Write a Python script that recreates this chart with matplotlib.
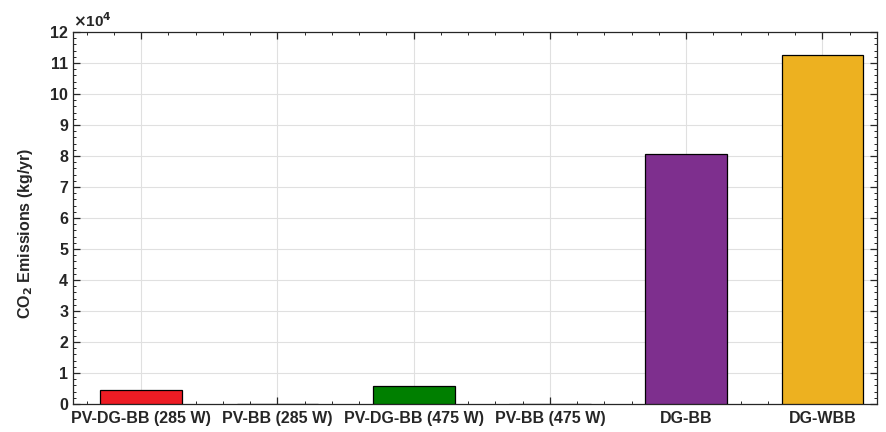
import numpy as np
import matplotlib
matplotlib.use('Agg')
from matplotlib import pyplot as plt
from matplotlib.ticker import MultipleLocator

plt.rcParams['font.family'] = ['Liberation Sans', 'DejaVu Sans']
plt.rcParams['font.weight'] = 'bold'

# Sistemas evaluados y sus emisiones anuales
systems = ['PV-DG-BB (285 W)', 'PV-BB (285 W)', 'PV-DG-BB (475 W)',
           'PV-BB (475 W)', 'DG-BB', 'DG-WBB']
emissions = [4600, 0, 5800, 0, 80600, 112600]  # kg/yr
colors = ['#ED1C24', '#ED1C24', '#007F00', '#007F00', '#7E2F8E', '#EDB120']

dark = '#262626'

fig = plt.figure(figsize=(8.86, 4.32), dpi=100)
ax = fig.add_axes([0.0824, 0.0648, 0.9074, 0.8612])

x = np.arange(1, len(systems) + 1)
ax.bar(x, np.array(emissions) / 1e4, width=0.6, color=colors,
       edgecolor='black', linewidth=0.9, zorder=3)

ax.set_xlim(0.5, 6.4)
ax.set_ylim(0, 12)
ax.set_xticks(x)
ax.set_xticklabels(systems)
ax.set_yticks(np.arange(0, 13, 1))
ax.xaxis.set_minor_locator(MultipleLocator(0.2))
ax.yaxis.set_minor_locator(MultipleLocator(0.2))

ax.tick_params(which='both', direction='in', top=True, right=True,
               colors=dark, labelcolor=dark, labelsize=11.5)
ax.tick_params(which='major', length=5, width=0.9)
ax.tick_params(which='minor', length=2.5, width=0.7)
ax.tick_params(axis='x', pad=5)
for lbl in ax.get_xticklabels() + ax.get_yticklabels():
    lbl.set_fontweight('bold')

ax.grid(True, which='major', color='#E0E0E0', linewidth=0.8, zorder=0)
ax.set_axisbelow(True)
for s in ax.spines.values():
    s.set_color(dark)
    s.set_linewidth(0.9)

ax.set_ylabel('CO$_\\mathbf{2}$ Emissions (kg/yr)', fontsize=11.5,
              fontweight='bold', color=dark)
ax.yaxis.set_label_coords(-0.047, 0.46)
ax.text(0.0, 1.005, r'$\times$10$^4$', transform=ax.transAxes,
        fontsize=11, fontweight='bold', color=dark, va='bottom', ha='left')

fig.savefig('out.png', dpi=100)
